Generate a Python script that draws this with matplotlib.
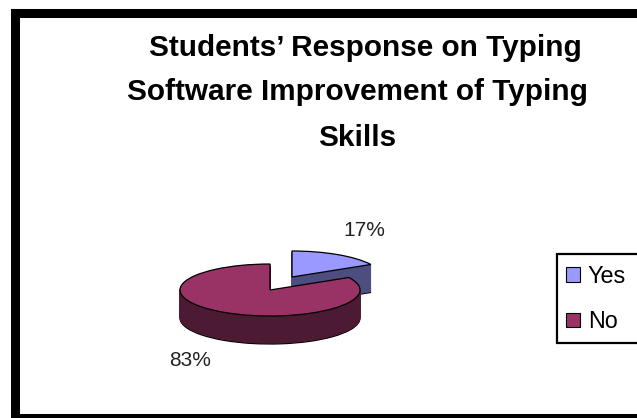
import matplotlib
matplotlib.use('Agg')
import matplotlib.pyplot as plt
from matplotlib.patches import Patch, Rectangle

plt.rcParams['font.family'] = ['Liberation Sans', 'DejaVu Sans']

labels = ['Yes', 'No']
values = [17, 83]
pct_labels = ['17%', '83%']
top_colors = ['#9999FF', '#993366']
side_colors = ['#4D4D80', '#4D1A33']
title_lines = ['Students’ Response on Typing',
               'Software Improvement of Typing',
               'Skills']

W, H = 637, 418
fig = plt.figure(figsize=(W / 100, H / 100), dpi=100, facecolor='white')

# background axes in pixel coordinates, for frame and texts
bg = fig.add_axes([0, 0, 1, 1])
bg.set_xlim(0, W)
bg.set_ylim(H, 0)
bg.axis('off')
bg.add_patch(Rectangle((15, 12.5), 800, 405.5, fill=False, ec='black', lw=6.5,
                       joinstyle='miter', capstyle='projecting'))

title_x = [365, 357, 357]
title_y = [48, 92, 138]
for line, x, y in zip(title_lines, title_x, title_y):
    bg.text(x, y, line, ha='center', va='center', fontsize=21.4, fontweight='bold')

bg.text(364, 231, pct_labels[0], ha='center', va='center', fontsize=15, color='#222222')
bg.text(190, 361, pct_labels[1], ha='center', va='center', fontsize=15, color='#222222')

# legend box runs off the right edge like the original
bg.add_patch(Rectangle((557, 254), 120, 89, fc='white', ec='black', lw=1.6, zorder=2,
                       joinstyle='miter', capstyle='projecting'))
handles = [Patch(fc=c, ec='black', lw=0.8) for c in top_colors]
bg.legend(handles, labels, loc='upper left', bbox_to_anchor=(566 / W, 1 - 265 / H),
          bbox_transform=fig.transFigure, frameon=False, fontsize=16.8, borderpad=0,
          borderaxespad=0, handlelength=0.6, handleheight=0.6, handletextpad=0.34,
          labelspacing=0.95).set_zorder(3)

# pie axes: one unit is one radius of the flattened ellipse
pie_cx, pie_cy, rx, ry = 270, 290, 90, 26
ax = fig.add_axes([0, 0, 1, 1])
ax.patch.set_alpha(0)


def draw_slice(i, cx, cy, color, edge):
    wedges, _ = ax.pie(values, center=(cx, cy), startangle=90, counterclock=False,
                       colors=[color, color],
                       wedgeprops={'edgecolor': edge, 'linewidth': 0.9})
    wedges[1 - i].set_visible(False)


# 0 = Yes, pulled out up and to the right; 1 = No
offsets = [((292 - pie_cx) / rx, (pie_cy - 277) / ry), (0, 0)]
depth = 28 / ry
steps = 28
for i in [0, 1]:
    ox, oy = offsets[i]
    draw_slice(i, ox, oy - depth, side_colors[i], 'black')
    for k in range(steps - 1, 0, -1):
        draw_slice(i, ox, oy - depth * k / steps, side_colors[i], side_colors[i])
    draw_slice(i, ox, oy, top_colors[i], 'black')

ax.set_aspect('auto')
ax.set_xlim(-pie_cx / rx, (W - pie_cx) / rx)
ax.set_ylim((pie_cy - H) / ry, pie_cy / ry)
ax.axis('off')

fig.savefig('out.png', dpi=100)
